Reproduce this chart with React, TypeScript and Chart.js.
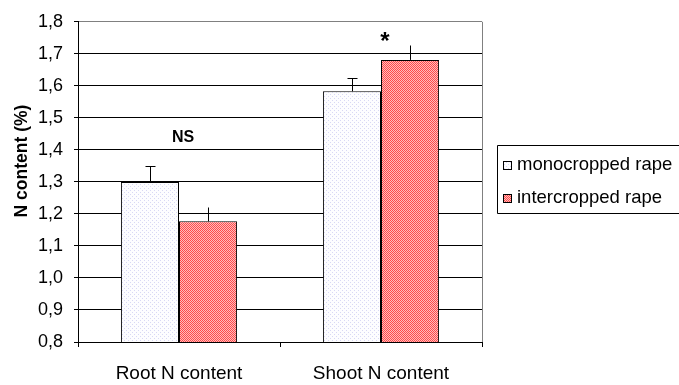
import React, { useEffect, useRef } from 'react';
import { Chart, registerables } from 'chart.js';

Chart.register(...registerables);

const categories = ['Root N content', 'Shoot N content'];
const seriesLabels = ['monocropped rape', 'intercropped rape'];
const monocropped = [1.3, 1.583];
const intercropped = [1.177, 1.681];
const monocroppedErr = [0.05, 0.04];
const intercroppedErr = [0.045, 0.046];
const yTickValues = [0.8, 0.9, 1.0, 1.1, 1.2, 1.3, 1.4, 1.5, 1.6, 1.7, 1.8];
const yTickLabels = ['0,8', '0,9', '1,0', '1,1', '1,2', '1,3', '1,4', '1,5', '1,6', '1,7', '1,8'];
const significance = ['NS', '*'];
const significanceY = [1.425, 1.714];
const significanceSize = [16, 24];
const yTitle = 'N content (%)';

const FONT = "'Liberation Sans', Arial, sans-serif";

function makePattern(kind: string): CanvasPattern | string {
  const c = document.createElement('canvas');
  c.width = 4;
  c.height = 4;
  const ctx = c.getContext('2d');
  if (!ctx) return kind === 'mono' ? '#f4f4fc' : '#ff7777';
  if (kind === 'mono') {
    ctx.fillStyle = '#fdfdff';
    ctx.fillRect(0, 0, 4, 4);
    ctx.fillStyle = '#d8d8f4';
    ctx.fillRect(0, 0, 1, 1);
    ctx.fillRect(2, 2, 1, 1);
  } else {
    ctx.fillStyle = '#ff4a4a';
    ctx.fillRect(0, 0, 4, 4);
    ctx.fillStyle = '#ffbcbc';
    ctx.fillRect(1, 0, 1, 1);
    ctx.fillRect(3, 0, 1, 1);
    ctx.fillRect(0, 1, 1, 1);
    ctx.fillRect(2, 1, 1, 1);
    ctx.fillRect(1, 2, 1, 1);
    ctx.fillRect(3, 2, 1, 1);
    ctx.fillRect(0, 3, 1, 1);
    ctx.fillRect(2, 3, 1, 1);
  }
  const p = ctx.createPattern(c, 'repeat');
  return p || (kind === 'mono' ? '#f4f4fc' : '#ff7777');
}

export default function App() {
  const ref = useRef<HTMLCanvasElement>(null);

  useEffect(() => {
    document.body.style.margin = '0';
    const canvas = ref.current;
    if (!canvas) return;
    const monoFill = makePattern('mono');
    const interFill = makePattern('inter');
    const errors = [monocroppedErr, intercroppedErr];
    const caps = [true, false];

    const extras = {
      id: 'extras',
      afterDatasetsDraw(chart: any) {
        const ctx = chart.ctx;
        const y = chart.scales.y;
        const x = chart.scales.x;
        const area = chart.chartArea;
        ctx.save();
        // right border
        ctx.strokeStyle = '#808080';
        ctx.lineWidth = 1;
        ctx.beginPath();
        ctx.moveTo(Math.round(area.right) + 0.5, area.top);
        ctx.lineTo(Math.round(area.right) + 0.5, area.bottom);
        ctx.stroke();
        // error bars
        ctx.strokeStyle = '#000';
        chart.data.datasets.forEach((ds: any, i: number) => {
          const meta = chart.getDatasetMeta(i);
          meta.data.forEach((el: any, j: number) => {
            const v = ds.data[j];
            const top = y.getPixelForValue(v + errors[i][j]);
            const px = Math.round(el.x) + 0.5;
            ctx.beginPath();
            ctx.moveTo(px, el.y);
            ctx.lineTo(px, Math.round(top) + 0.5);
            ctx.stroke();
            if (caps[i]) {
              ctx.beginPath();
              ctx.moveTo(px - 5, Math.round(top) + 0.5);
              ctx.lineTo(px + 5, Math.round(top) + 0.5);
              ctx.stroke();
            }
          });
        });
        // significance labels
        ctx.fillStyle = '#000';
        ctx.textAlign = 'center';
        ctx.textBaseline = 'alphabetic';
        significance.forEach((s, j) => {
          ctx.font = `bold ${significanceSize[j]}px ${FONT}`;
          ctx.fillText(s, x.getPixelForValue(j) + 4, y.getPixelForValue(significanceY[j]));
        });
        // y title
        ctx.save();
        ctx.textBaseline = 'middle';
        ctx.translate(22, 161);
        ctx.rotate(-Math.PI / 2);
        ctx.font = `bold 17.5px ${FONT}`;
        ctx.fillText(yTitle, 0, 0);
        ctx.restore();
        // legend
        const lx = 497.5, ly = 145.5, lh = 68;
        ctx.strokeStyle = '#000';
        ctx.beginPath();
        ctx.moveTo(700, ly);
        ctx.lineTo(lx, ly);
        ctx.lineTo(lx, ly + lh);
        ctx.lineTo(700, ly + lh);
        ctx.stroke();
        const fills = [monoFill, interFill];
        const rowsY = [165, 198];
        ctx.font = `18.5px ${FONT}`;
        ctx.textAlign = 'left';
        ctx.textBaseline = 'middle';
        seriesLabels.forEach((lab, i) => {
          ctx.fillStyle = fills[i] as any;
          ctx.fillRect(503, rowsY[i] - 4, 8, 8);
          ctx.strokeStyle = '#000';
          ctx.strokeRect(503.5, rowsY[i] - 3.5, 8, 8);
          ctx.fillStyle = '#000';
          ctx.fillText(lab, 517, rowsY[i]);
        });
        ctx.restore();
      },
    };

    const chart = new Chart(canvas, {
      type: 'bar',
      data: {
        labels: categories,
        datasets: [
          {
            label: seriesLabels[0],
            data: monocropped,
            backgroundColor: monoFill as any,
            borderColor: '#000',
            borderWidth: 1,
            borderSkipped: 'bottom',
            barPercentage: 1,
            categoryPercentage: 0.575,
          },
          {
            label: seriesLabels[1],
            data: intercropped,
            backgroundColor: interFill as any,
            borderColor: '#000',
            borderWidth: 1,
            borderSkipped: 'bottom',
            barPercentage: 1,
            categoryPercentage: 0.575,
          },
        ],
      },
      options: {
        responsive: false,
        animation: false,
        layout: { padding: { left: 0, top: 17, right: 197, bottom: 0 } },
        plugins: {
          legend: { display: false },
          tooltip: { enabled: false },
        },
        scales: {
          x: {
            grid: {
              offset: true,
              drawOnChartArea: false,
              drawTicks: true,
              tickLength: 5,
              color: '#000',
            },
            border: { color: '#000', width: 1 },
            ticks: {
              color: '#000',
              font: { family: FONT, size: 19 },
              padding: 15,
              maxRotation: 0,
            },
            afterFit: (s: any) => {
              s.height = 43;
            },
          },
          y: {
            min: 0.8,
            max: 1.8,
            afterBuildTicks: (s: any) => {
              s.ticks = yTickValues.map((v) => ({ value: v }));
            },
            grid: {
              color: (c: any) => (Math.abs(c.tick.value - 1.8) < 1e-6 ? '#808080' : '#000'),
              tickColor: '#000',
              tickLength: 4,
            },
            border: { color: '#000', width: 1 },
            ticks: {
              color: '#000',
              font: { family: FONT, size: 18 },
              padding: 11,
              callback: (_v: any, i: number) => yTickLabels[i],
            },
            afterFit: (s: any) => {
              s.width = 78;
            },
          },
        },
      },
      plugins: [extras],
    });
    return () => chart.destroy();
  }, []);

  return (
    <div style={{ width: 679, height: 385 }}>
      <canvas ref={ref} width={679} height={385} style={{ display: 'block' }} />
    </div>
  );
}
